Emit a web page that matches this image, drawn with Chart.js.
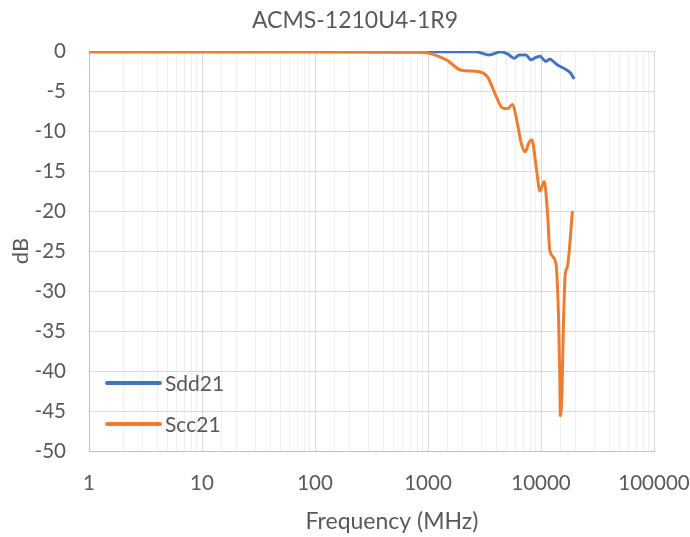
<!DOCTYPE html>
<html>
<head>
<meta charset="utf-8">
<script src="https://cdn.jsdelivr.net/npm/chart.js@4/dist/chart.umd.min.js"></script>
<style>
  html, body { margin: 0; padding: 0; background: #fff; }
  #wrap { width: 690px; height: 537px; position: relative; }
</style>
</head>
<body>
<div id="wrap"><canvas id="chart"></canvas></div>
<script>
// data
const chartTitle = "ACMS-1210U4-1R9";
const xTitle = "Frequency (MHz)";
const yTitle = "dB";

const sddFreq = [1, 100, 1000, 2660, 3485, 4420, 5060, 5790, 6410, 7350, 8140, 9020, 9780, 11040, 11980, 12820, 14000, 16600, 18370, 19650];
const sddDb   = [-0.1, -0.1, -0.1, -0.1, -0.5, -0.1, -0.37, -0.9, -0.5, -0.5, -1.1, -0.8, -0.65, -1.3, -1.0, -1.3, -1.75, -2.3, -2.8, -3.5];

const sccFreq = [1, 100, 500, 840, 1030, 1450, 1970, 2840, 3350, 4020, 4540, 5080, 5570, 6170, 6680, 7250, 7800, 8280, 9130, 9780, 10670, 11420, 11980, 13520, 14260, 14680, 14810, 15330, 15760, 16350, 17170, 18980];
const sccDb   = [-0.1, -0.1, -0.15, -0.15, -0.3, -1.1, -2.4, -2.6, -3.2, -5.7, -7.1, -7.2, -6.7, -9.0, -11.5, -12.6, -11.5, -11.1, -14.8, -17.5, -16.3, -20.2, -25.0, -26.5, -32.7, -41.0, -45.6, -42.7, -34.8, -28.1, -26.9, -20.0];

const xMin = 1, xMax = 100000;
const yMin = -50, yMax = 0, yStep = 5;

const textColor = "#595959";
const fontFamily = "Lato, 'Open Sans', sans-serif";

function toPoints(xs, ys) {
  return xs.map((x, i) => ({ x: x, y: ys[i] }));
}

function isDecade(v) {
  const l = Math.log10(v);
  return Math.abs(l - Math.round(l)) < 1e-9;
}

// title, x-axis title and legend drawn on top of the chart
const overlay = {
  id: "overlay",
  afterDraw(chart) {
    const ctx = chart.ctx;
    ctx.save();
    ctx.fillStyle = textColor;
    ctx.textAlign = "center";
    ctx.textBaseline = "middle";
    ctx.font = "23px " + fontFamily;
    ctx.fillText(chartTitle, 355, 21);
    ctx.fillText(xTitle, 392, 522);

    // legend inside plot, bottom-left
    const items = [chart.data.datasets[1], chart.data.datasets[0]];
    ctx.textAlign = "left";
    ctx.font = "21px " + fontFamily;
    items.forEach((ds, i) => {
      const y = 383 + i * 41;
      ctx.strokeStyle = ds.borderColor;
      ctx.lineWidth = 4;
      ctx.lineCap = "round";
      ctx.beginPath();
      ctx.moveTo(107, y);
      ctx.lineTo(160, y);
      ctx.stroke();
      ctx.fillStyle = textColor;
      ctx.fillText(ds.label, 165, y + 1);
    });
    ctx.restore();
  }
};

new Chart(document.getElementById("chart"), {
  type: "line",
  data: {
    datasets: [
      {
        label: "Scc21",
        data: toPoints(sccFreq, sccDb),
        borderColor: "#ED7D31",
        backgroundColor: "#ED7D31",
        borderWidth: 3,
        pointRadius: 0,
        cubicInterpolationMode: "monotone",
        order: 0
      },
      {
        label: "Sdd21",
        data: toPoints(sddFreq, sddDb),
        borderColor: "#4472C4",
        backgroundColor: "#4472C4",
        borderWidth: 3,
        pointRadius: 0,
        cubicInterpolationMode: "monotone",
        order: 1
      }
    ]
  },
  options: {
    responsive: true,
    maintainAspectRatio: false,
    animation: false,
    layout: { padding: { top: 51, right: 36, left: 0, bottom: 0 } },
    plugins: {
      legend: { display: false },
      title: { display: false },
      tooltip: { enabled: false }
    },
    scales: {
      x: {
        type: "logarithmic",
        min: xMin,
        max: xMax,
        afterFit(scale) {
          scale.height = 86;
          scale.paddingLeft = 0;
          scale.paddingRight = 0;
        },
        border: { display: true, color: "#bfbfbf", width: 1 },
        grid: {
          drawTicks: false,
          color: ctx => (ctx.tick && isDecade(ctx.tick.value)) ? "#d9d9d9" : "#efefef"
        },
        ticks: {
          autoSkip: false,
          maxRotation: 0,
          padding: 20,
          color: textColor,
          font: { family: fontFamily, size: 20.5 },
          callback: v => isDecade(v) ? String(Math.round(v)) : ""
        }
      },
      y: {
        min: yMin,
        max: yMax,
        afterFit(scale) {
          scale.width = 89;
          scale.paddingTop = 0;
          scale.paddingBottom = 0;
        },
        border: { display: true, color: "#bfbfbf", width: 1 },
        grid: { drawTicks: false, color: "#d9d9d9" },
        title: {
          display: true,
          text: yTitle,
          color: textColor,
          font: { family: fontFamily, size: 22 },
          padding: { top: 8, bottom: 0 }
        },
        ticks: {
          stepSize: yStep,
          padding: 23,
          color: textColor,
          font: { family: fontFamily, size: 20.5 }
        }
      }
    }
  },
  plugins: [overlay]
});
</script>
</body>
</html>
